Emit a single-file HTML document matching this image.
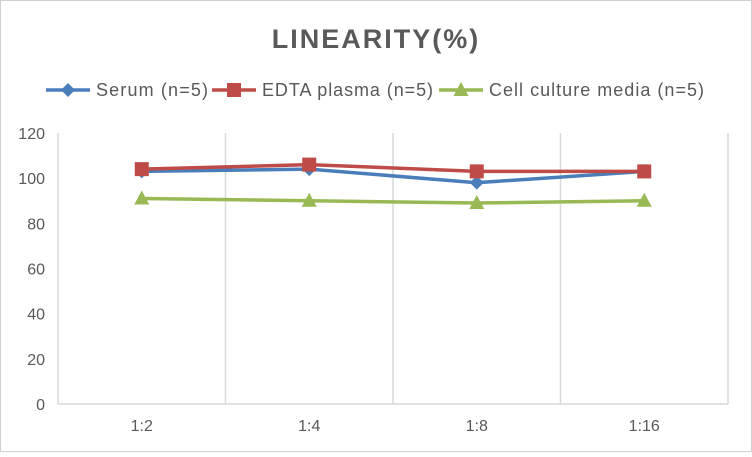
<!DOCTYPE html>
<html><head><meta charset="utf-8"><style>
body{margin:0;background:#fff}
svg{font-family:"Liberation Sans",sans-serif}
</style></head><body>
<svg width="752" height="452" viewBox="0 0 752 452" xmlns="http://www.w3.org/2000/svg">
<rect x="0.5" y="0.5" width="751" height="451" fill="#fff" stroke="#d0d0d0"/>
<text x="376" y="48" text-anchor="middle" font-size="27" font-weight="bold" fill="#595959" letter-spacing="2">LINEARITY(%)</text>
<g id="legend"></g>
<g id="grid"></g>
<g id="axes"></g>
<g id="series"></g>
</svg>
<script>
const categories=["1:2","1:4","1:8","1:16"];
const serum=[103,104,98,103];
const edta=[104,106,103,103];
const cell=[91,90,89,90];
const yTicks=[0,20,40,60,80,100,120];
const NS="http://www.w3.org/2000/svg";
const L=58,R=728,T=133,B=404,yMax=120;
const bw=(R-L)/categories.length;
const xPos=i=>L+bw*(i+0.5);
const yPos=v=>B-(v/yMax)*(B-T);
function mk(tag,attrs,parent){const e=document.createElementNS(NS,tag);for(const k in attrs)e.setAttribute(k,attrs[k]);parent.appendChild(e);return e;}
const grid=document.getElementById('grid'),axes=document.getElementById('axes'),ser=document.getElementById('series'),leg=document.getElementById('legend');
yTicks.forEach(t=>{
 const tx=mk('text',{x:L-13,y:yPos(t)+6,'text-anchor':'end','font-size':16,fill:'#595959'},axes);tx.textContent=t;
 
 
});
for(let i=0;i<=categories.length;i++){
 const ln=mk('line',{x1:L+bw*i,x2:L+bw*i,y1:T,y2:B,stroke:'#d9d9d9','stroke-width':1.5},grid);
 
 
}
const ax=mk('line',{x1:L,x2:R,y1:B,y2:B,stroke:'#d9d9d9','stroke-width':1.5},axes);


categories.forEach((c,i)=>{
 const tx=mk('text',{x:xPos(i),y:B+27,'text-anchor':'middle','font-size':16,fill:'#595959'},axes);tx.textContent=c;
 
 
});
function marker(kind,x,y,color,parent){
 let e;
 if(kind==='diamond')e=mk('polygon',{points:`${x},${y-7} ${x+7},${y} ${x},${y+7} ${x-7},${y}`,fill:color},parent);
 else if(kind==='square')e=mk('rect',{x:x-7,y:y-7,width:14,height:14,fill:color},parent);
 else e=mk('polygon',{points:`${x},${y-8} ${x+7.5},${y+6} ${x-7.5},${y+6}`,fill:color},parent);
 return e;
}
const seriesList=[
 {name:'Serum (n=5)',data:serum,color:'#4a7ebb',kind:'diamond',id:'serum'},
 {name:'EDTA plasma (n=5)',data:edta,color:'#be4b48',kind:'square',id:'edta'},
 {name:'Cell culture media (n=5)',data:cell,color:'#98b954',kind:'triangle',id:'cell'}];
seriesList.forEach(s=>{
 const g=mk('g',{},ser);
 
 
 const pl=mk('polyline',{points:s.data.map((v,i)=>xPos(i)+','+yPos(v)).join(' '),fill:'none',stroke:s.color,'stroke-width':3.5},g);
 
 
 s.data.forEach((v,i)=>{
  const m=marker(s.kind,xPos(i),yPos(v),s.color,g);
  
  
 });
});
const legX=[46,212,439];
const legW=[112,171,215];
seriesList.forEach((s,i)=>{
 const g=mk('g',{},leg);
 
 
 const x=legX[i],y=90;
 mk('line',{x1:x,x2:x+44,y1:y,y2:y,stroke:s.color,'stroke-width':3.5},g);
 marker(s.kind,x+22,y,s.color,g);
 const t=mk('text',{x:x+50,y:y+6,'font-size':18,fill:'#595959',textLength:legW[i],lengthAdjust:'spacing'},g);t.textContent=s.name;
});
</script>
</body></html>
